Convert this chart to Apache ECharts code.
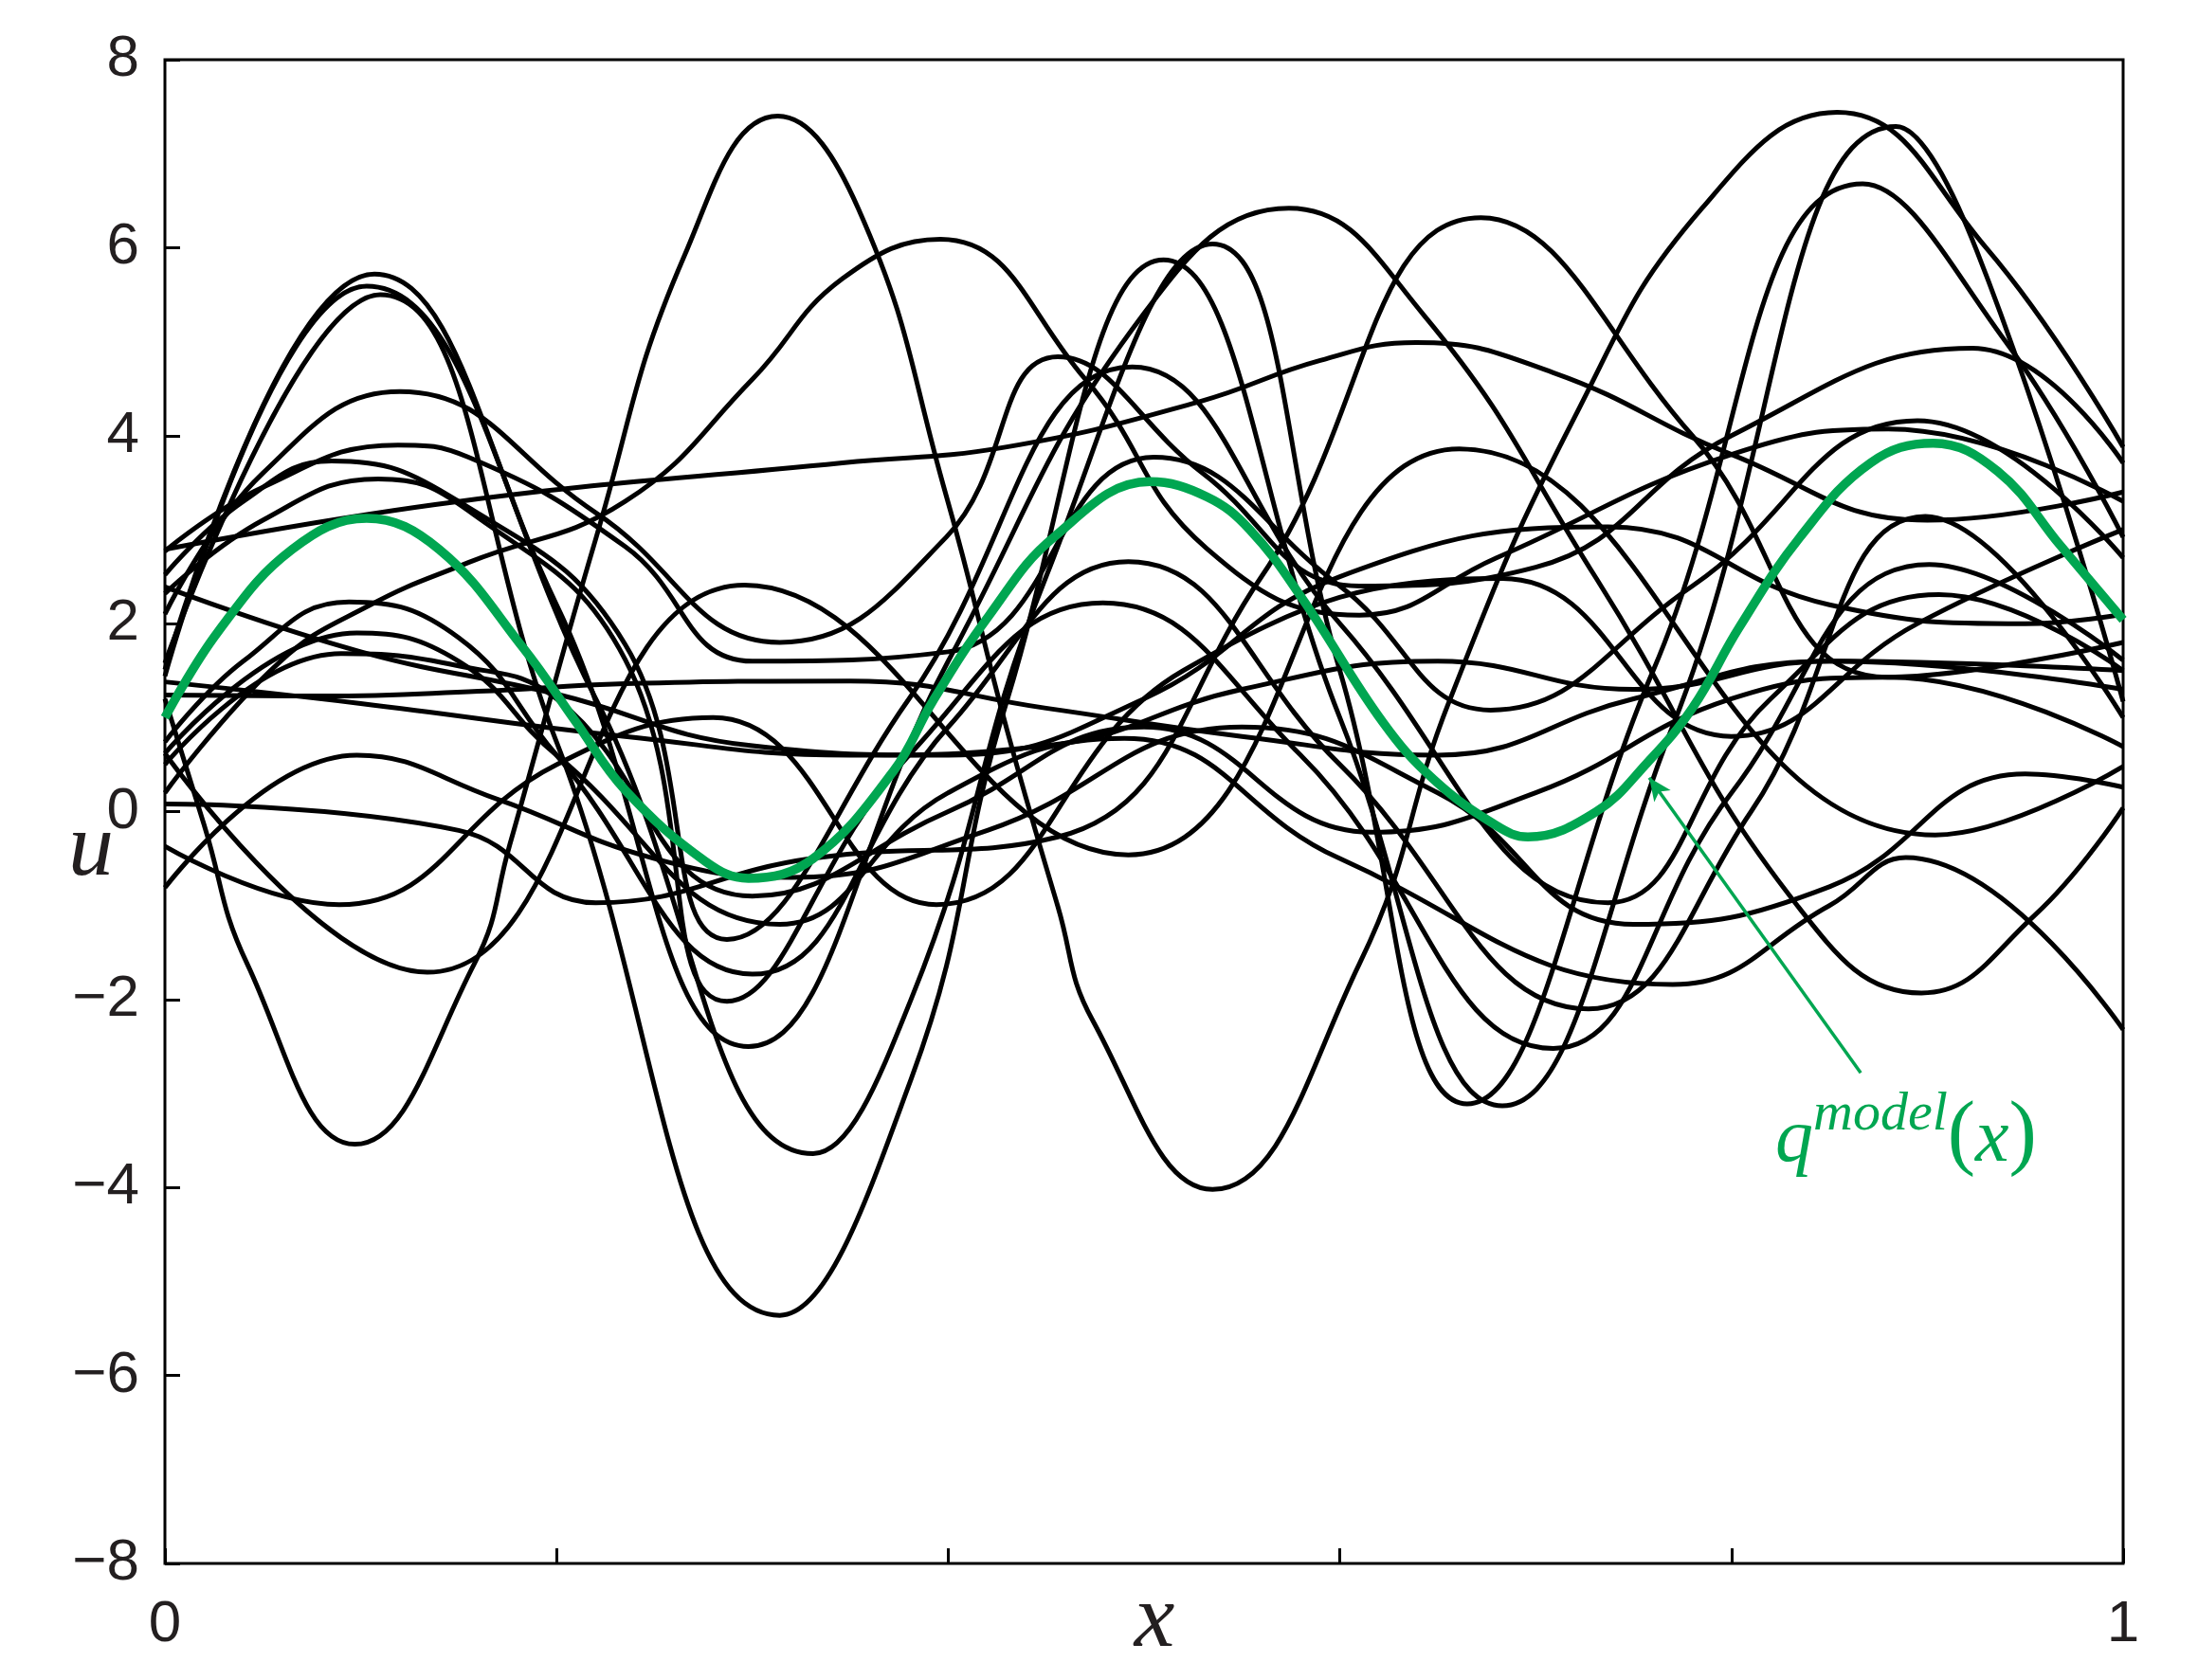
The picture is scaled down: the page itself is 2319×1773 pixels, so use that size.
<!DOCTYPE html>
<html>
<head>
<meta charset="utf-8">
<script src="https://cdn.jsdelivr.net/npm/echarts@6/dist/echarts.min.js"></script>
<style>
html,body{margin:0;padding:0;background:#fff;}
#chart{width:2319px;height:1773px;}
</style>
</head>
<body>
<div id="chart"></div>
<script>
// ---- data (x, u) knots ----
const yTicks = [-8, -6, -4, -2, 0, 2, 4, 6, 8];
const xTickLabels = ['0', '', '', '', '', '1'];

const qModel = [[0,1.0],[0.027,1.91],[0.065,2.79],[0.103,3.12],[0.14,2.79],[0.183,1.74],[0.21,0.95],[0.235,0.23],[0.276,-0.53],[0.298,-0.71],[0.331,-0.50],[0.372,0.43],[0.392,1.17],[0.421,2.09],[0.454,2.92],[0.503,3.51],[0.532,3.35],[0.554,3.0],[0.581,2.26],[0.622,0.95],[0.648,0.34],[0.68,-0.15],[0.696,-0.27],[0.731,-0.0],[0.757,0.52],[0.78,1.1],[0.804,1.96],[0.835,2.92],[0.871,3.71],[0.903,3.92],[0.936,3.62],[0.968,2.83],[1,2.04]];

const c01 = [[0,1.2],[0.02,-0.14],[0.042,-1.62],[0.097,-3.54],[0.158,-1.62],[0.176,-0.36],[0.22,2.9],[0.265,5.9],[0.313,7.40],[0.354,6.42],[0.399,3.36],[0.43,0.87],[0.456,-1.01],[0.474,-2.23],[0.535,-4.02],[0.61,-1.62],[0.656,1.18],[0.72,4.2],[0.785,6.42],[0.854,7.44],[0.93,6.0],[1,3.88]];
const c02 = [[0,1.58],[0.11,5.50],[0.2,0.74],[0.314,-5.36],[0.381,-2.85],[0.43,1.18],[0.51,5.87],[0.6,1.0],[0.683,-3.13],[0.77,0.91],[0.884,7.29],[0.925,5.98],[1,1.17]];
const c03 = [[0,1.44],[0.103,5.59],[0.22,1.2],[0.331,-3.64],[0.381,-2.0],[0.45,2.5],[0.535,6.04],[0.6,1.5],[0.665,-3.11],[0.76,1.5],[0.867,6.68],[0.94,5.0],[1,2.92]];
const c04 = [[0,1.51],[0.107,5.72],[0.2,2.2],[0.298,-2.50],[0.4,1.6],[0.5,5.3],[0.574,6.42],[0.643,5.28],[0.731,2.48],[0.834,-1.01],[0.897,-1.93],[0.955,-1.1],[1,0.04]];
const c05 = [[0,2.10],[0.05,3.6],[0.12,4.47],[0.22,3.18],[0.314,1.80],[0.399,2.92],[0.456,4.84],[0.53,3.6],[0.61,2.4],[0.7,2.6],[0.8,4.0],[0.923,4.93],[1,3.71]];
const c06 = [[0,2.77],[0.05,3.45],[0.119,3.90],[0.155,3.77],[0.235,2.82],[0.3,1.6],[0.4,1.7],[0.505,3.77],[0.6,2.4],[0.677,1.08],[0.78,2.4],[0.895,4.16],[1,2.7]];
const c07 = [[0,2.52],[0.04,3.3],[0.085,3.73],[0.15,3.3],[0.235,1.78],[0.287,-1.36],[0.38,1.2],[0.494,4.73],[0.6,2.0],[0.737,-0.97],[0.82,1.2],[0.906,2.31],[1,1.5]];
const c08 = [[0,2.32],[0.05,3.1],[0.109,3.54],[0.155,3.2],[0.235,1.62],[0.287,-2.02],[0.38,0.6],[0.479,2.22],[0.58,0.6],[0.709,-2.52],[0.8,0.2],[0.901,2.63],[1,1.61]];
const c09 = [[0,0.74],[0.04,1.6],[0.094,2.23],[0.15,1.85],[0.2,0.6],[0.30,-1.73],[0.4,0.9],[0.492,2.66],[0.6,0.5],[0.727,-2.1],[0.81,0.0],[0.899,3.14],[1,1.0]];
const c10 = [[0,0.62],[0.098,1.90],[0.15,1.6],[0.2,0.6],[0.314,-1.2],[0.4,0.2],[0.49,0.78],[0.6,-0.5],[0.77,-1.84],[0.85,-1.0],[0.889,-0.49],[1,-2.32]];
const c11 = [[0,0.50],[0.09,1.68],[0.15,1.55],[0.2,1.2],[0.3,-0.9],[0.4,0.0],[0.5,0.9],[0.616,-0.22],[0.7,0.2],[0.8,1.2],[0.88,1.43],[1,0.69]];
const c12 = [[0,-0.81],[0.098,0.60],[0.17,0.13],[0.25,-0.5],[0.32,-0.7],[0.42,-0.2],[0.55,0.9],[0.65,0.2],[0.75,-1.2],[0.85,-0.8],[0.95,0.4],[1,0.26]];
const c13 = [[0,0.62],[0.134,-1.71],[0.296,2.41],[0.492,-0.46],[0.661,3.86],[0.904,-0.25],[1,0.48]];
const c14 = [[0,-0.37],[0.089,-0.99],[0.2,0.5],[0.28,1.0],[0.394,-0.99],[0.52,1.5],[0.683,2.48],[0.8,0.8],[0.895,2.00],[1,3.0]];
const c15 = [[0,0.08],[0.15,-0.2],[0.22,-0.97],[0.33,-0.5],[0.456,-0.27],[0.56,2.5],[0.672,6.32],[0.78,4.0],[0.88,1.43],[1,1.8]];
const c16 = [[0,0.2],[0.058,1.58],[0.105,2.2],[0.155,2.65],[0.235,3.3],[0.3,4.6],[0.346,5.67],[0.396,6.09],[0.47,4.6],[0.532,2.8],[0.61,2.09],[0.68,2.7],[0.8,3.8],[0.88,4.07],[1,3.3]];
const c17 = [[0,2.79],[0.15,3.3],[0.346,3.71],[0.43,3.88],[0.528,4.36],[0.59,4.8],[0.639,4.99],[0.709,4.67],[0.8,3.8],[0.9,3.1],[1,3.4]];
const c18 = [[0,1.24],[0.08,1.23],[0.16,1.28],[0.235,1.36],[0.35,1.39],[0.45,1.1],[0.55,0.8],[0.65,0.6],[0.75,1.2],[0.85,1.6],[1,1.3]];
const c19 = [[0,2.39],[0.1,1.7],[0.2,1.25],[0.3,0.7],[0.4,0.6],[0.5,1.2],[0.6,2.5],[0.737,3.03],[0.85,2.2],[0.95,2.0],[1,2.1]];
const c20 = [[0,1.38],[0.1,1.15],[0.235,0.80],[0.35,0.6],[0.45,0.7],[0.55,1.3],[0.65,1.6],[0.75,1.3],[0.85,1.6],[1,1.5]];

const samples = [c01,c02,c03,c04,c05,c06,c07,c08,c09,c10,c11,c12,c13,c14,c15,c16,c17,c18,c19,c20];

const arrowFrom = [0.866, -2.78];
const arrowTo = [0.758, 0.36];

// ---- chart ----
const GREEN = '#00a651';
const chart = echarts.init(document.getElementById('chart'), null, {renderer: 'canvas'});

const series = samples.map((d, i) => ({
  type: 'line', name: 's' + (i + 1), data: d, smooth: 0.45,
  showSymbol: false, silent: true, z: 2,
  lineStyle: {color: '#000', width: 5}
}));
series.push({
  type: 'line', name: 'q', data: qModel, smooth: 0.4, showSymbol: false, silent: true, z: 5,
  lineStyle: {color: GREEN, width: 9.5},
  markLine: {
    silent: true, symbol: ['none', 'arrow'], symbolSize: [16, 24],
    lineStyle: {color: GREEN, width: 3.5, type: 'solid'},
    label: {show: false},
    data: [[{coord: arrowFrom}, {coord: arrowTo}]]
  }
});

chart.setOption({
  animation: false,
  backgroundColor: '#fff',
  grid: {left: 174, top: 63, width: 2066, height: 1587, show: true, borderColor: '#000', borderWidth: 3, backgroundColor: 'transparent'},
  xAxis: {
    type: 'value', min: 0, max: 1, interval: 0.2,
    axisLine: {show: false, onZero: false},
    axisTick: {show: true, inside: true, length: 16, lineStyle: {color: '#000', width: 3}},
    splitLine: {show: false},
    axisLabel: {margin: 34, color: '#231f20', fontFamily: 'Liberation Sans', fontSize: 62,
      formatter: v => xTickLabels[Math.round(v * 5)] || ''}
  },
  yAxis: {
    type: 'value', min: yTicks[0], max: yTicks[yTicks.length - 1], interval: 2,
    axisLine: {show: false, onZero: false},
    axisTick: {show: true, inside: true, length: 16, lineStyle: {color: '#000', width: 3}},
    splitLine: {show: false},
    axisLabel: {margin: 27, color: '#231f20', fontFamily: 'Liberation Sans', fontSize: 62,
      formatter: v => (v < 0 ? '\u2212' + Math.abs(v) : String(v))}
  },
  series: series,
  graphic: [
    {type: 'text', x: 1218, y: 1712, style: {text: 'x', font: 'italic 96px "Liberation Serif"', fill: '#231f20', align: 'center', verticalAlign: 'middle'}},
    {type: 'text', x: 96, y: 898, style: {text: 'u', font: 'italic 96px "Liberation Serif"', fill: '#231f20', align: 'center', verticalAlign: 'middle'}},
    {type: 'text', x: 1873, y: 1148, style: {
      text: '{q|q}{s|model}{p|(}{q|x}{p|)}', align: 'left', verticalAlign: 'top', fill: GREEN,
      rich: {
        q: {fontFamily: 'Liberation Serif', fontStyle: 'italic', fontSize: 80, fill: GREEN, color: GREEN, lineHeight: 96, verticalAlign: 'bottom'},
        s: {fontFamily: 'Liberation Serif', fontStyle: 'italic', fontSize: 58, fill: GREEN, color: GREEN, lineHeight: 96, verticalAlign: 'top'},
        p: {fontFamily: 'Liberation Serif', fontSize: 88, fill: GREEN, color: GREEN, lineHeight: 96, verticalAlign: 'bottom'}
      }
    }}
  ]
});
</script>
</body>
</html>
